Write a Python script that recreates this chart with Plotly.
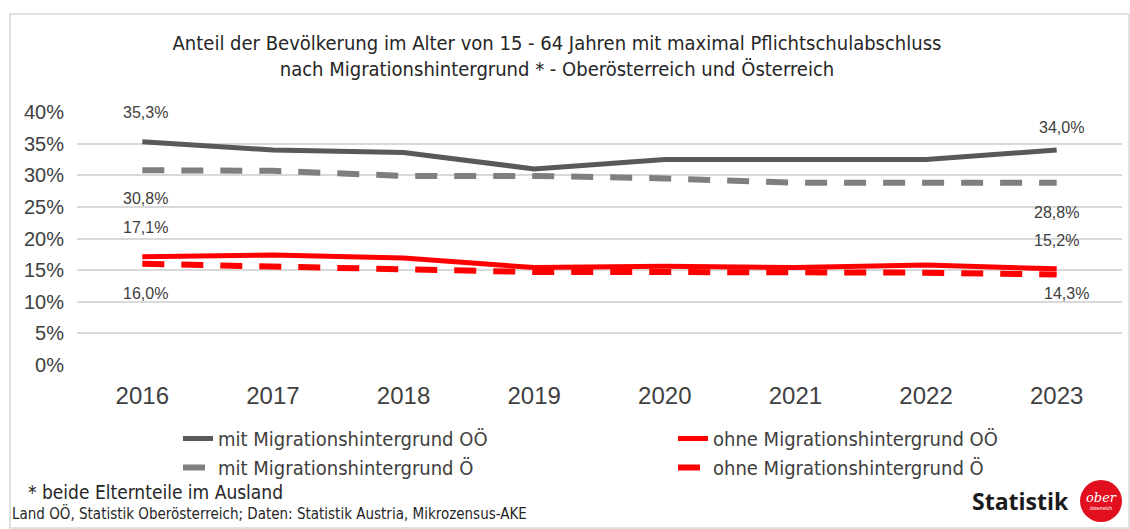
import plotly.graph_objects as go

years = ["2016", "2017", "2018", "2019", "2020", "2021", "2022", "2023"]
mit_ooe = [35.3, 34.0, 33.6, 31.0, 32.5, 32.5, 32.5, 34.0]
mit_oe = [30.8, 30.7, 29.9, 29.9, 29.5, 28.8, 28.8, 28.8]
ohne_ooe = [17.1, 17.4, 16.9, 15.4, 15.6, 15.4, 15.8, 15.2]
ohne_oe = [16.0, 15.5, 15.0, 14.7, 14.7, 14.7, 14.6, 14.3]
y_ticks = [0, 5, 10, 15, 20, 25, 30, 35, 40]

names = ["mit Migrationshintergrund OÖ", "ohne Migrationshintergrund OÖ",
         "mit Migrationshintergrund Ö", "ohne Migrationshintergrund Ö"]

NARROW = "DejaVu Sans Condensed, Liberation Sans Narrow, sans-serif"
SANS = "Liberation Sans, Arial, sans-serif"

def fmt(v):
    return f"{v:.1f}".replace(".", ",") + "%"

fig = go.Figure()
series = [
    (names[0], mit_ooe, "#595959", "solid", 5, "legend"),
    (names[2], mit_oe, "#7f7f7f", "22px,17px", 6, "legend"),
    (names[1], ohne_ooe, "#ff0000", "solid", 5, "legend2"),
    (names[3], ohne_oe, "#ff0000", "22px,17px", 6, "legend2"),
]
for name, vals, col, dash, w, lg in series:
    fig.add_trace(go.Scatter(x=years, y=vals, mode="lines", name=name,
                             line=dict(color=col, width=w, dash=dash),
                             legend=lg, hoverinfo="skip"))

# data labels: first and last values
label_specs = [
    (mit_ooe, 0, 29, 3), (mit_oe, 0, -28, 3), (ohne_ooe, 0, 29, 3), (ohne_oe, 0, -30, 3),
    (mit_ooe, 7, 22, 5), (mit_oe, 7, -30, 0), (ohne_ooe, 7, 28, 0), (ohne_oe, 7, -19, 10),
]
for vals, i, ys, xs in label_specs:
    fig.add_annotation(x=i, y=vals[i], xref="x", yref="y", text=fmt(vals[i]),
                       showarrow=False, yshift=ys, xshift=xs,
                       font=dict(family=SANS, size=16, color="#404040"))

L, R, T, B = 77, 8, 112, 164
W, H = 1130, 529
pw = W - L - R
ph = H - T - B

def px_x(x):
    return (x - L) / pw

def px_y(y):
    return (H - B - y) / ph

# outer frame
fig.add_shape(type="rect", xref="paper", yref="paper",
              x0=px_x(10), x1=px_x(1129), y0=px_y(528), y1=px_y(14),
              line=dict(color="#d9d9d9", width=1.5), layer="below")

fig.add_annotation(xref="paper", yref="paper", x=px_x(26), y=px_y(492),
                   xanchor="left", yanchor="middle", showarrow=False,
                   text="* beide Elternteile im Ausland",
                   font=dict(family=NARROW, size=19, color="#262626"))
fig.add_annotation(xref="paper", yref="paper", x=px_x(10), y=px_y(513),
                   xanchor="left", yanchor="middle", showarrow=False,
                   text="Land OÖ, Statistik Oberösterreich; Daten: Statistik Austria, Mikrozensus-AKE",
                   font=dict(family=NARROW, size=15, color="#262626"))

# logo
fig.add_annotation(xref="paper", yref="paper", x=px_x(1071), y=px_y(501),
                   xanchor="right", yanchor="middle", showarrow=False,
                   text="<b>Statistik</b>",
                   font=dict(family="Open Sans, sans-serif", size=23, color="#1a1a1a"))
fig.add_shape(type="circle", xref="paper", yref="paper",
              x0=px_x(1080), x1=px_x(1122), y0=px_y(522), y1=px_y(480),
              fillcolor="#e2101f", line=dict(width=0))
fig.add_annotation(xref="paper", yref="paper", x=px_x(1101), y=px_y(497),
                   xanchor="center", yanchor="middle", showarrow=False,
                   text="<i>ober</i>",
                   font=dict(family="DejaVu Serif, serif", size=13, color="white"))
fig.add_annotation(xref="paper", yref="paper", x=px_x(1101), y=px_y(508),
                   xanchor="center", yanchor="middle", showarrow=False,
                   text="österreich",
                   font=dict(family=SANS, size=5, color="white"))

legend_common = dict(orientation="v", xanchor="left", yanchor="top",
                     font=dict(family=NARROW, size=20, color="#404040"),
                     bgcolor="rgba(0,0,0,0)", tracegroupgap=0, itemwidth=30)

fig.update_layout(
    width=W, height=H,
    margin=dict(l=L, r=R, t=T, b=B, autoexpand=False),
    paper_bgcolor="white", plot_bgcolor="white",
    title=dict(text="Anteil der Bevölkerung im Alter von 15 - 64 Jahren mit maximal Pflichtschulabschluss<br>nach Migrationshintergrund * - Oberösterreich und Österreich",
               x=557 / W, xanchor="center", y=1 - 50 / H, yanchor="top",
               font=dict(family=NARROW, size=20, color="#262626")),
    showlegend=True,
    legend=dict(x=px_x(178), y=px_y(419), **legend_common),
    legend2=dict(x=px_x(673), y=px_y(419), **legend_common),
    xaxis=dict(type="category", range=[-0.5, 7.5], showgrid=False, zeroline=False,
               showline=False, ticks="", ticklabelstandoff=14,
               tickfont=dict(family=SANS, size=24, color="#404040")),
    yaxis=dict(range=[0, 40], tickvals=y_ticks,
               ticktext=[f"{v}%" for v in y_ticks],
               showgrid=True, gridcolor="#d9d9d9", gridwidth=1.5, zeroline=False,
               showline=False, ticks="", ticklabelstandoff=12,
               tickfont=dict(family=SANS, size=20, color="#404040")),
)

fig.write_html("out.html", config={"displayModeBar": False},
               post_script="document.body.style.margin='0px';")
